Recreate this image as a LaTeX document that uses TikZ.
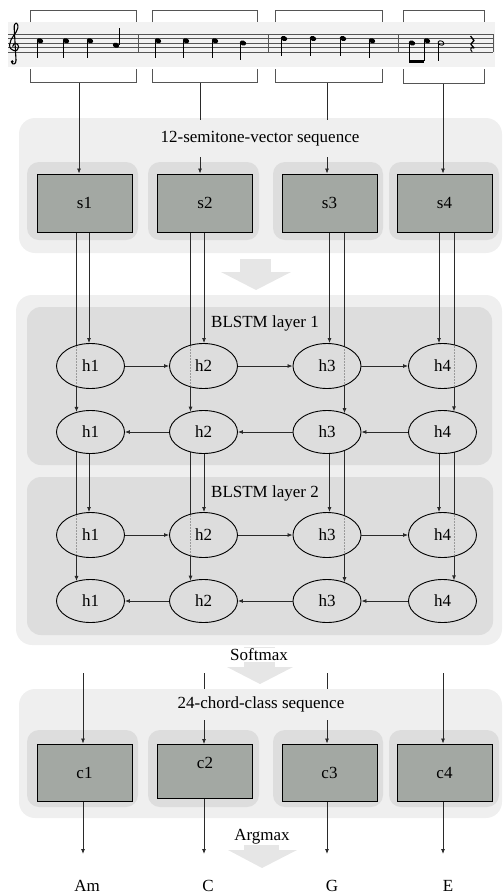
\documentclass[tikz,border=0pt]{standalone}
\usepackage{fontspec}
\setmainfont{Liberation Serif}
\usetikzlibrary{arrows.meta,shapes.geometric}
\pgfdeclarelayer{bg}
\pgfdeclarelayer{lines}
\pgfsetlayers{bg,lines,main}
\definecolor{outerc}{HTML}{EFEFEF}
\definecolor{innerc}{HTML}{DDDDDD}
\definecolor{boxc}{HTML}{A3A8A3}
\definecolor{bandc}{HTML}{F2F2F2}
\definecolor{bigarr}{HTML}{E6E6E6}
\definecolor{linec}{HTML}{2A2A2A}
\definecolor{staffc}{HTML}{555555}
\definecolor{dotc}{HTML}{9A9A9A}
\newcommand\myNoteD[2]{\fill[rotate around={-20:(#1,#2)}] (#1,#2) ellipse [x radius=3.3, y radius=2.4];
  \draw[line width=0.7pt] (#1-2.9,#2+0.5) -- (#1-2.9,#2+17);}
\newcommand\myNoteU[2]{\fill[rotate around={-20:(#1,#2)}] (#1,#2) ellipse [x radius=3.3, y radius=2.4];
  \draw[line width=0.7pt] (#1+2.9,#2-0.5) -- (#1+2.9,#2-17);}
\begin{document}
\begin{tikzpicture}[x=1pt,y=-1pt,
  font=\fontsize{17}{20}\selectfont,
  arr/.style={draw=linec,line width=0.8pt,-{Latex[length=5pt,width=4pt]}},
  bracketline/.style={draw=staffc,line width=1pt},
  vecbox/.style={rectangle,draw=black,line width=0.9pt,fill=boxc,minimum width=95pt,minimum height=58pt,inner sep=0pt},
  cell/.style={ellipse,draw=black,line width=0.9pt,fill=innerc,minimum width=68pt,minimum height=45pt,inner sep=0pt},
  cellb/.style={cell,minimum height=43pt},
  dotline/.style={draw=dotc,line width=0.6pt,dash pattern=on 1.5pt off 1.5pt},
  outerbg/.style={fill=outerc,rounded corners=16pt},
  innerbg/.style={fill=innerc,rounded corners=12pt},
  bigarrow/.style={fill=bigarr}]
\useasboundingbox (0,0) rectangle (503,895);

% ---------------- backgrounds ----------------
\begin{pgfonlayer}{bg}
\fill[bandc] (8,22) rectangle (495,67);
\fill[outerbg] (19,118) rectangle (502,253);
\fill[innerbg] (27,162) rectangle (138,240);
\fill[innerbg] (148,162) rectangle (259,240);
\fill[innerbg] (273,162) rectangle (383,240);
\fill[innerbg] (389,162) rectangle (499,240);
\fill[bigarrow] (240,259) rectangle (271,272);
\fill[bigarrow] (221,272) -- (291,272) -- (256,290) -- cycle;
\fill[outerbg] (16,295) rectangle (502,645);
\fill[innerbg,rounded corners=14pt] (27,307) rectangle (492,465);
\fill[innerbg,rounded corners=14pt] (27,477) rectangle (493,635);
\fill[bigarrow] (244,647) rectangle (275,667);
\fill[bigarrow] (227,667) -- (293,667) -- (260,684) -- cycle;
\fill[outerbg] (19,689) rectangle (502,818);
\fill[innerbg] (27,730) rectangle (138,807);
\fill[innerbg] (148,730) rectangle (259,807);
\fill[innerbg] (273,730) rectangle (383,807);
\fill[innerbg] (389,730) rectangle (499,807);
\fill[bigarrow] (244,835) rectangle (279,850);
\fill[bigarrow] (228,850) -- (297,850) -- (262,868) -- cycle;
\end{pgfonlayer}

% ---------------- staff ----------------
\foreach \y in {34,38.5,43,47.5,52} \draw[staffc,line width=0.6pt] (8,\y) -- (493,\y);
\foreach \x in {138,268,398,493} \draw[staffc,line width=0.8pt] (\x,34) -- (\x,52);
% treble clef
\draw[line width=1.1pt,line cap=round,line join=round]
  (16,60) -- (14.2,28)
  .. controls (13.8,21.5) and (18.6,21.5) .. (17.8,28)
  .. controls (17.2,33) and (9.8,38) .. (9.6,45)
  .. controls (9.4,51.5) and (18.6,53) .. (18.6,47)
  .. controls (18.6,42.5) and (12.8,42) .. (12.8,46.5);
\draw[line width=1.1pt,line cap=round] (16,60) .. controls (16.4,64.5) and (12.5,65) .. (11.8,62.5);
\fill (12.2,61.6) circle [radius=1.5];
% measure 1
\myNoteD{40}{40.75}\myNoteD{66}{40.75}\myNoteD{90}{40.75}\myNoteU{116}{45.25}
% measure 2
\myNoteD{158}{40.75}\myNoteD{186}{40.75}\myNoteD{215}{40.75}\myNoteD{243}{43}
% measure 3
\myNoteD{284}{38.5}\myNoteD{313}{38.5}\myNoteD{343}{38.5}\myNoteD{372}{40.75}
% measure 4
\fill[rotate around={-20:(412,43)}] (412,43) ellipse [x radius=3.3, y radius=2.4];
\fill[rotate around={-20:(427,40.75)}] (427,40.75) ellipse [x radius=3.3, y radius=2.4];
\draw[line width=0.7pt] (409.1,43.5) -- (409.1,61);
\draw[line width=0.7pt] (424.1,41.2) -- (424.1,61);
\fill (408.75,59.5) rectangle (424.45,62.5);
\draw[line width=0.9pt,rotate around={-20:(441,43)}] (441,43) ellipse [x radius=3, y radius=2.1];
\draw[line width=0.7pt] (438.1,43.5) -- (438.1,61);
\draw[line width=1.3pt,line join=round] (470.5,36) -- (474,40.5) -- (470.8,44.2) -- (474,48);
\draw[line width=1pt,line cap=round] (474,48) .. controls (470.5,46.5) and (469.5,49.5) .. (472,51.5);

% brackets
\draw[bracketline] (30,22) -- (30,10) -- (136,10) -- (136,22);
\draw[bracketline] (152,22) -- (152,10) -- (257,10) -- (257,22);
\draw[bracketline] (275,22) -- (275,10) -- (382,10) -- (382,22);
\draw[bracketline] (403,22) -- (403,10) -- (484,10) -- (484,22);
\draw[bracketline] (30,69) -- (30,82) -- (136,82) -- (136,69);
\draw[bracketline] (152,69) -- (152,82) -- (257,82) -- (257,69);
\draw[bracketline] (275,69) -- (275,82) -- (382,82) -- (382,69);
\draw[bracketline] (403,69) -- (403,83) -- (484,83) -- (484,69);
\coordinate (m1) at (79,82);
\coordinate (m2) at (200,82);
\coordinate (m3) at (327,82);
\coordinate (m4) at (443,83);

% ---------------- nodes ----------------
\node[fill=outerc,minimum height=37pt,inner xsep=2pt] (title1) at (260,138.5) {12-semitone-vector sequence};
\node[vecbox] (s1) at (84.5,203) {s1};
\node[vecbox] (s2) at (205,203) {s2};
\node[vecbox] (s3) at (329.5,203) {s3};
\node[vecbox] (s4) at (444.5,203) {s4};

\node (lab1) at (265,323) {BLSTM layer 1};
\node (lab2) at (265,493) {BLSTM layer 2};

\node[cell] (L1f1) at (90.5,366) {h1};
\node[cell] (L1f2) at (203.5,366) {h2};
\node[cell] (L1f3) at (327,366) {h3};
\node[cell] (L1f4) at (442.5,366) {h4};
\node[cellb] (L1b1) at (90.5,432) {h1};
\node[cellb] (L1b2) at (203.5,432) {h2};
\node[cellb] (L1b3) at (327,432) {h3};
\node[cellb] (L1b4) at (442.5,432) {h4};
\node[cell] (L2f1) at (90.5,535) {h1};
\node[cell] (L2f2) at (203.5,535) {h2};
\node[cell] (L2f3) at (327,535) {h3};
\node[cell] (L2f4) at (442.5,535) {h4};
\node[cellb] (L2b1) at (90.5,601) {h1};
\node[cellb] (L2b2) at (203.5,601) {h2};
\node[cellb] (L2b3) at (327,601) {h3};
\node[cellb] (L2b4) at (442.5,601) {h4};

\node[fill=white,inner sep=1pt] (softmax) at (259,655) {Softmax};
\node[fill=outerc,minimum height=31pt,inner xsep=2pt] (title2) at (261,704.5) {24-chord-class sequence};
\node[vecbox,minimum height=57pt] (c1) at (84.5,772.5) {c1};
\node[vecbox,minimum height=54pt] (c2) at (205,771.5) {\raisebox{3pt}[0pt][0pt]{c2}};
\node[vecbox,minimum height=57pt] (c3) at (329.5,772.5) {c3};
\node[vecbox,minimum height=57pt] (c4) at (444.5,772.5) {c4};
\node[fill=white,inner sep=1pt] (argmax) at (262,837) {Argmax};
\node (Am) at (87,886) {Am};
\node (C) at (208,886) {C};
\node (G) at (332,886) {G};
\node (E) at (448,886) {E};

% column x positions
\coordinate (f1) at (89,0);   \coordinate (p1) at (76.5,0);
\coordinate (f2) at (204,0);  \coordinate (p2) at (190.5,0);
\coordinate (f3) at (329.5,0);\coordinate (p3) at (344.5,0);
\coordinate (f4) at (439,0);  \coordinate (p4) at (454,0);

% ---------------- connectors (under the nodes) ----------------
\begin{pgfonlayer}{lines}
\draw[arr] (m1) -- (s1.north -| m1);
\draw[arr] (m2) -- (s2.north -| m2);
\draw[arr] (m3) -- (s3.north -| m3);
\draw[arr] (m4) -- (s4.north -| m4);
\foreach \i/\d in {1/1.9,2/1.6,3/3.1,4/1.3}{
  \draw[arr] (s\i.center -| f\i) -- (L1f\i.north -| f\i);
  \draw[arr,shorten >=-\d pt] (s\i.center -| p\i) -- (L1b\i.north -| p\i);
  \draw[arr] (L1b\i.center -| f\i) -- (L2f\i.north -| f\i);
  \draw[arr,shorten >=-\d pt] (L1b\i.center -| p\i) -- (L2b\i.north -| p\i);
}
\end{pgfonlayer}

% dotted pass-through inside forward cells
\foreach \i in {1,2,3,4}{
  \begin{scope}
    \clip (L1f\i.center) ellipse [x radius=33.2, y radius=21.9];
    \draw[dotline] (p\i |- L1f\i.north) -- (p\i |- L1f\i.south);
  \end{scope}
  \begin{scope}
    \clip (L2f\i.center) ellipse [x radius=33.2, y radius=21.9];
    \draw[dotline] (p\i |- L2f\i.north) -- (p\i |- L2f\i.south);
  \end{scope}
}

% recurrent arrows
\draw[arr] (L1f1) -- (L1f2);
\draw[arr] (L1f2) -- (L1f3);
\draw[arr] (L1f3) -- (L1f4);
\draw[arr] (L1b4) -- (L1b3);
\draw[arr] (L1b3) -- (L1b2);
\draw[arr] (L1b2) -- (L1b1);
\draw[arr] (L2f1) -- (L2f2);
\draw[arr] (L2f2) -- (L2f3);
\draw[arr] (L2f3) -- (L2f4);
\draw[arr] (L2b4) -- (L2b3);
\draw[arr] (L2b3) -- (L2b2);
\draw[arr] (L2b2) -- (L2b1);

% output section
\coordinate (ct1) at (83,673);  \coordinate (ce1) at (83,854);
\coordinate (ct2) at (204,673); \coordinate (ce2) at (204,854);
\coordinate (ct3) at (327,673); \coordinate (ce3) at (327,854);
\coordinate (ct4) at (443,673); \coordinate (ce4) at (443,854);
\begin{pgfonlayer}{lines}
\foreach \i in {1,2,3,4}{
  \draw[arr] (ct\i) -- (c\i.north -| ct\i);
  \draw[arr] (c\i.center -| ce\i) -- (ce\i);
}
\end{pgfonlayer}
\end{tikzpicture}
\end{document}
